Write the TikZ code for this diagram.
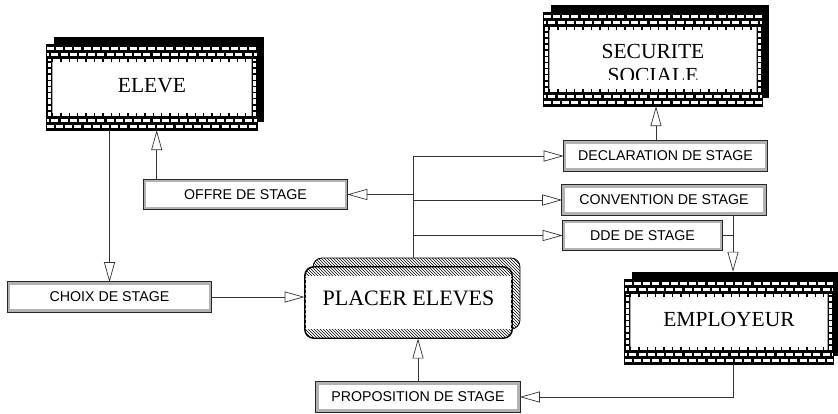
\documentclass[tikz,border=0pt]{standalone}
\usepackage{fontspec}
\setmainfont{Liberation Serif}
\setsansfont{Liberation Sans}
\usetikzlibrary{arrows.meta,shadows,patterns}

\tikzset{
  arr/.style={draw=black!80, line width=0.7pt, -{Triangle[open, length=20pt, width=11pt]}},
  link/.style={draw=black!80, line width=0.7pt},
  flux/.style={rectangle, fill=white, draw=gray!60, line width=2.6pt,
    preaction={draw=black!85, line width=4.2pt},
    inner sep=0pt, minimum width=201pt, minimum height=27pt, font=\sffamily\fontsize{14.2}{16}\selectfont},
  brickbox/.style={rectangle, fill=white, inner sep=0pt, font=\fontsize{21.5}{24}\selectfont,
    drop shadow={shadow xshift=7pt, shadow yshift=8pt, opacity=1, fill=black}},
  procbox/.style={rectangle, rounded corners=9pt, fill=white, draw=black, line width=0.9pt,
    minimum width=207pt, minimum height=71pt, inner sep=0pt, font=\fontsize{22}{24}\selectfont},
  brickrow/.style={white, line width=3.4pt, dash pattern=on 7pt off 2.2pt},
  tickrow/.style={black, line width=3pt, dash pattern=on 1.4pt off 7pt},
  siderow/.style={white, line width=2.8pt, dash pattern=on 4.5pt off 1.6pt},
}

% brick frame drawn over a brickbox node
\newcommand\brickframe[1]{%
  \begin{scope}
    \clip (#1.south west) rectangle (#1.north east);
    \fill[black, even odd rule] (#1.south west) rectangle (#1.north east)
      ([xshift=5.5pt,yshift=14pt]#1.south west) rectangle ([xshift=-5.5pt,yshift=-14pt]#1.north east);
    \foreach \dy/\ph in {3.5/0, 9.8/4.6} {
      \draw[brickrow, dash phase=\ph pt] ([yshift=-\dy pt]#1.north west) -- ([yshift=-\dy pt]#1.north east);
      \draw[brickrow, dash phase=\ph pt] ([yshift=\dy pt]#1.south west) -- ([yshift=\dy pt]#1.south east);
    }
    \draw[tickrow] ([xshift=5pt,yshift=-15.5pt]#1.north west) -- ([xshift=-5pt,yshift=-15.5pt]#1.north east);
    \draw[tickrow] ([xshift=5pt,yshift=15.5pt]#1.south west) -- ([xshift=-5pt,yshift=15.5pt]#1.south east);
    \draw[siderow] ([xshift=2.7pt,yshift=14pt]#1.south west) -- ([xshift=2.7pt,yshift=-14pt]#1.north west);
    \draw[siderow] ([xshift=-2.7pt,yshift=14pt]#1.south east) -- ([xshift=-2.7pt,yshift=-14pt]#1.north east);
  \end{scope}
  \draw[black, line width=0.9pt] (#1.south west) rectangle (#1.north east);
}

\begin{document}
\begin{tikzpicture}[x=1pt, y=-1pt]
\useasboundingbox (0,0) rectangle (838,414);

% Entities
\node[brickbox, minimum width=210pt, minimum height=85pt] (eleve) at (152,87.5) {\raisebox{5pt}{ELEVE}};
\brickframe{eleve}

\node[brickbox, minimum width=218pt, minimum height=93pt] (secu) at (653,59.5) {};
\begin{scope}
  \clip (secu.north west) rectangle (762,80);
  \node[anchor=north, inner sep=0pt, align=center, font=\fontsize{21.5}{24}\selectfont] (secutext) at (653,44) {SECURITE\\SOCIALE};
\end{scope}
\brickframe{secu}

\node[brickbox, minimum width=208pt, minimum height=84pt] (employeur) at (729,322) {\raisebox{6pt}{EMPLOYEUR}};
\brickframe{employeur}

% Process
\draw[rounded corners=9pt, pattern=north west lines, line width=0.8pt] (313,258) rectangle (520,329);
\node[procbox] (placer) at (408.5,302.5) {\raisebox{8pt}{PLACER ELEVES}};
\begin{scope}
  \clip[rounded corners=9pt] (placer.south west) rectangle (placer.north east);
  \fill[pattern=north west lines] (placer.north west) rectangle ([yshift=-9pt]placer.north east);
  \fill[pattern=north west lines] (placer.south west) rectangle ([yshift=9pt]placer.south east);
\end{scope}
\draw[rounded corners=9pt, line width=0.9pt] (placer.south west) rectangle (placer.north east);
\draw[line width=1.4pt, dash pattern=on 3pt off 2pt] ([xshift=1.2pt,yshift=10pt]placer.south west) -- ([xshift=1.2pt,yshift=-10pt]placer.north west);
\draw[line width=1.4pt, dash pattern=on 3pt off 2pt] ([xshift=-1.2pt,yshift=10pt]placer.south east) -- ([xshift=-1.2pt,yshift=-10pt]placer.north east);

% Flows
\node[flux] (offre) at (245.5,194.5) {OFFRE DE STAGE};
\node[flux] (choix) at (109.5,297) {CHOIX DE STAGE};
\node[flux] (declaration) at (665.5,156) {DECLARATION DE STAGE};
\node[flux] (convention) at (664,200) {CONVENTION DE STAGE};
\node[flux, minimum width=157pt] (dde) at (642.5,235.5) {DDE DE STAGE};
\node[flux] (proposition) at (418,397) {PROPOSITION DE STAGE};

% Arrows
\coordinate (trunk) at (413,156);
\coordinate (placertop) at ([yshift=9pt]placer.north);
\draw[arr] (trunk |- placertop) |- (declaration.west);
\draw[arr] (trunk |- offre.east) -- (offre.east);
\draw[arr] (trunk |- convention.west) -- (convention.west);
\draw[arr] (trunk |- dde.west) -- (dde.west);

\coordinate (offreup) at ([xshift=13pt]offre.north west);
\draw[arr] (offreup) -- (offreup |- eleve.south);
\draw[arr] (choix.north |- eleve.south) -- (choix.north);
\draw[arr] (choix.east) -- (choix.east -| placer.west);

\coordinate (secux) at ([xshift=3pt]secu.south);
\draw[arr] (secux |- declaration.north) -- (secux);

\coordinate (empshadow) at ([xshift=4pt,yshift=8pt]employeur.north);
\draw[arr] (empshadow |- convention.south) -- (empshadow);
\draw[link] (dde.east) -- (dde.east -| empshadow);

\coordinate (empx) at ([xshift=4pt]employeur.south);
\draw[arr] (empx) |- (proposition.east);
\draw[arr] (proposition.north) -- (proposition.north |- placer.south);

\end{tikzpicture}
\end{document}
